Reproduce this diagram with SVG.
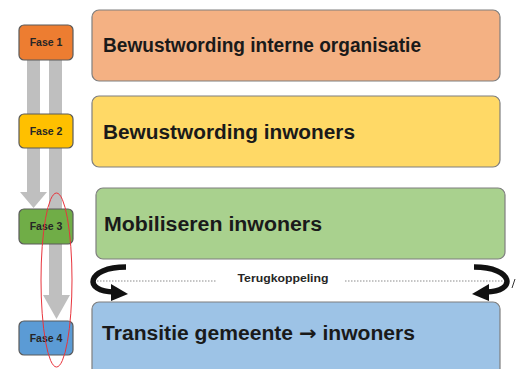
<svg xmlns="http://www.w3.org/2000/svg" width="517" height="369" viewBox="0 0 517 369">
<defs>
<style>
.big{stroke:#7f7f7f;stroke-width:1.2}
.fase{stroke:#5a5a5a;stroke-width:1.2}
.bt{font-family:"Liberation Sans",Arial,sans-serif;font-weight:bold;font-size:20px;fill:#1a1a1a}
.ft{font-family:"Liberation Sans",Arial,sans-serif;font-weight:bold;font-size:10.5px;fill:#262626;text-anchor:middle}
.gr{fill:#bfbfbf}
.dot{stroke:#8c8c8c;stroke-width:1.2;stroke-dasharray:1.5 1.5;fill:none}
</style>
</defs>
<rect width="517" height="369" fill="#ffffff"/>
<g id="connectors">
<rect class="gr" x="27" y="58" width="13" height="135"/>
<polygon class="gr" points="20,192 47,192 33.5,208"/>
<rect class="gr" x="49" y="58" width="13" height="238"/>
<polygon class="gr" points="43,295 70,295 56.5,319"/>
</g>
<g id="box1"><rect class="big" x="92" y="10" width="408" height="71" rx="7" fill="#f4b183"/><text class="bt" x="103" y="52" textLength="318" lengthAdjust="spacingAndGlyphs">Bewustwording interne organisatie</text></g>
<g id="box2"><rect class="big" x="92" y="96" width="408" height="71" rx="7" fill="#ffd966"/><text class="bt" x="103" y="139" textLength="252" lengthAdjust="spacingAndGlyphs">Bewustwording inwoners</text></g>
<g id="box3"><rect class="big" x="96" y="188" width="409" height="71" rx="7" fill="#a9d18e"/><text class="bt" x="104" y="231" textLength="218" lengthAdjust="spacingAndGlyphs">Mobiliseren inwoners</text></g>
<g id="box4"><rect class="big" x="92" y="302" width="408" height="80" rx="7" fill="#9dc3e6"/><text class="bt" x="102" y="340" textLength="313" lengthAdjust="spacingAndGlyphs">Transitie gemeente <tspan font-family="DejaVu Sans, sans-serif">→</tspan> inwoners</text></g>
<g id="fase1"><rect class="fase" x="19" y="25" width="54" height="35" rx="5" fill="#ed7d31"/><text class="ft" x="46" y="46">Fase 1</text></g>
<g id="fase2"><rect class="fase" x="19" y="114" width="54" height="34" rx="5" fill="#ffc000"/><text class="ft" x="46" y="135">Fase 2</text></g>
<g id="fase3"><rect class="fase" x="19" y="209" width="54" height="35" rx="5" fill="#70ad47"/><text class="ft" x="46" y="230">Fase 3</text></g>
<g id="fase4"><rect class="fase" x="19" y="321" width="54" height="34" rx="5" fill="#5b9bd5"/><text class="ft" x="46" y="342">Fase 4</text></g>
<g id="feedback">
<line class="dot" x1="97" y1="281" x2="217" y2="281"/>
<line class="dot" x1="345" y1="281" x2="503" y2="281"/>
<text class="ft" x="283" y="282" font-size="11" textLength="91" lengthAdjust="spacingAndGlyphs">Terugkoppeling</text>
<g id="loopL">
<path d="M126,267 C86,267 83,292 114,292" fill="none" stroke="#111" stroke-width="5.5"/>
<polygon points="111,284 128,294 111,301" fill="#111"/>
</g>
<g id="loopR" transform="translate(600,0) scale(-1,1)">
<path d="M126,267 C86,267 83,292 114,292" fill="none" stroke="#111" stroke-width="5.5"/>
<polygon points="111,284 128,294 111,301" fill="#111"/>
</g>
<line x1="515" y1="279" x2="512" y2="288" stroke="#333" stroke-width="1"/>
</g>
<ellipse cx="56.5" cy="280" rx="15.5" ry="87" fill="none" stroke="#e8343c" stroke-width="1"/>
</svg>
